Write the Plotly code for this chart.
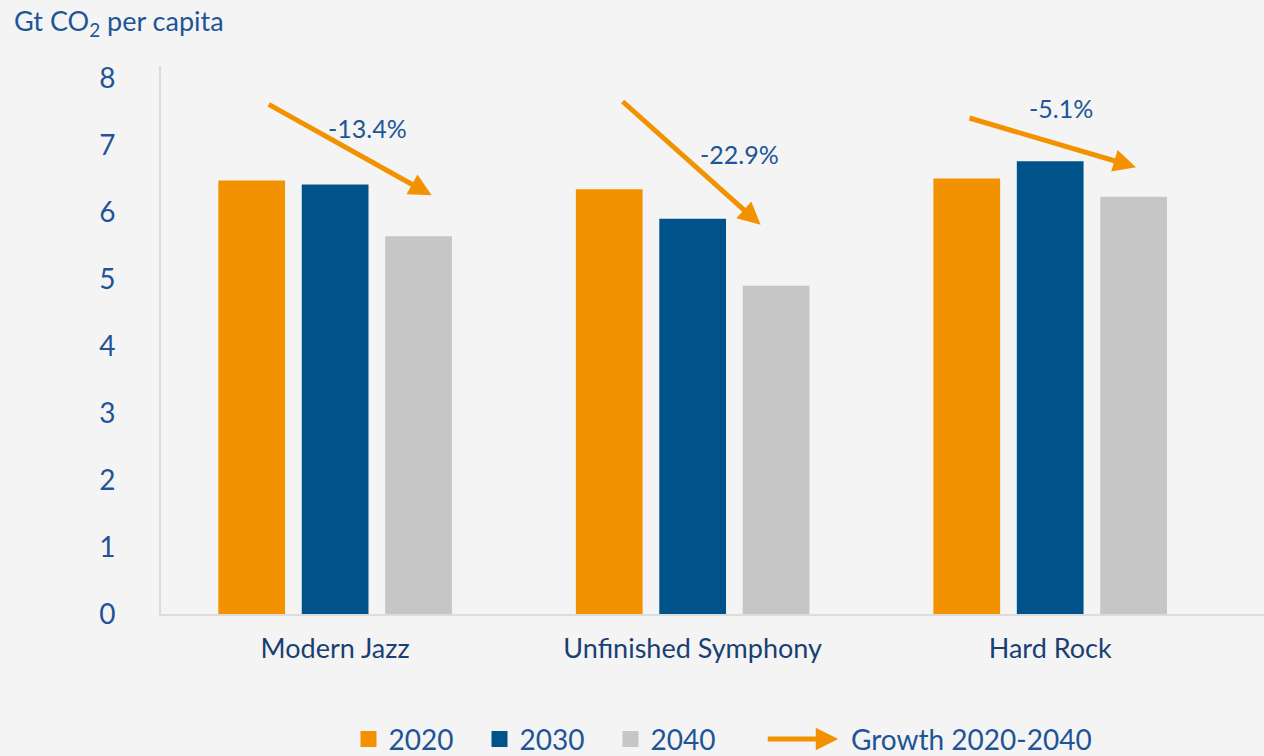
import plotly.graph_objects as go

# --- data ---
scenarios = ["Modern Jazz", "Unfinished Symphony", "Hard Rock"]
years = ["2020", "2030", "2040"]
co2_2020 = [6.47, 6.34, 6.50]
co2_2030 = [6.41, 5.90, 6.76]
co2_2040 = [5.64, 4.90, 6.23]
growth_labels = ["-13.4%", "-22.9%", "-5.1%"]

ORANGE = "#f39200"
NAVY = "#00538a"
GREY = "#c6c6c6"
BG = "#f4f4f4"
TXT = "#1f5597"
FONT = "Lato"

fig = go.Figure()
for name, vals, col in zip(years, [co2_2020, co2_2030, co2_2040], [ORANGE, NAVY, GREY]):
    fig.add_trace(go.Bar(x=list(range(len(scenarios))), y=vals, name=name,
                         marker=dict(color=col, line=dict(width=0)), showlegend=False))
    # legend proxy with a bigger square swatch
    fig.add_trace(go.Scatter(x=[None], y=[None], mode="markers", name=name,
                             marker=dict(symbol="square", size=20, color=col)))

# growth arrows (tail over 2020 bar, head over 2040 bar), hand placed
arrow_geo = [  # (tail dx, tail y, head dx, head y, label dx, label y)
    (-0.19, 7.62, 0.27, 6.25, 0.09, 7.25),
    (-0.20, 7.67, 0.19, 5.81, 0.13, 6.87),
    (-0.23, 7.41, 0.24, 6.67, 0.03, 7.56),
]
for i, (g, (tx, ty, hx, hy, lx, ly)) in enumerate(zip(growth_labels, arrow_geo)):
    fig.add_annotation(x=i + hx, y=hy, ax=i + tx, ay=ty, xref="x", yref="y",
                       axref="x", ayref="y", text="", showarrow=True,
                       arrowhead=2, arrowsize=0.9, arrowwidth=5, arrowcolor=ORANGE)
    fig.add_annotation(x=i + lx, y=ly, xref="x", yref="y", text=g, showarrow=False,
                       font=dict(family=FONT, size=25, color=TXT))

# unit label
fig.add_annotation(x=-0.135, y=1.08, xref="paper", yref="paper",
                   text="Gt CO<sub>2</sub> per capita",
                   showarrow=False, xanchor="left", yanchor="middle",
                   font=dict(family=FONT, size=27, color=TXT))

# growth legend entry
fig.add_annotation(x=0.614, y=-0.228, ax=-72, ay=0, xref="paper", yref="paper",
                   text="", showarrow=True,
                   arrowhead=2, arrowsize=0.9, arrowwidth=5, arrowcolor=ORANGE)
fig.add_annotation(x=0.624, y=-0.228, xref="paper", yref="paper", text="Growth 2020-2040",
                   showarrow=False, xanchor="left", yanchor="middle",
                   font=dict(family=FONT, size=28, color=TXT))

fig.update_layout(
    width=1264, height=756,
    margin=dict(l=161, r=0, t=66, b=142),
    paper_bgcolor=BG, plot_bgcolor=BG,
    barmode="group", bargap=0.30, bargroupgap=0.20,
    font=dict(family=FONT, color=TXT),
    legend=dict(orientation="h", x=0.170, xanchor="left",
                yref="container", y=0.022, yanchor="middle",
                font=dict(family=FONT, size=28, color=TXT), itemwidth=30,
                entrywidth=86, entrywidthmode="pixels",
                bgcolor="rgba(0,0,0,0)"),
    xaxis=dict(range=[-0.487, 2.598], tickvals=list(range(len(scenarios))),
               ticktext=scenarios, showgrid=False, zeroline=False,
               showline=True, linecolor="#dcdcdc", linewidth=2, automargin=False,
               ticks="", ticklabelstandoff=10,
               tickfont=dict(family=FONT, size=27, color="#1a3f73")),
    yaxis=dict(range=[0, 8.18], dtick=1, showgrid=False, zeroline=False,
               showline=True, linecolor="#dcdcdc", linewidth=2, automargin=False,
               ticks="", ticklabelstandoff=38,
               tickfont=dict(family=FONT, size=28, color=TXT)),
)

fig.write_html("out.html", config={"displayModeBar": False},
               post_script="document.body.style.margin='0';document.body.style.overflow='hidden';")
